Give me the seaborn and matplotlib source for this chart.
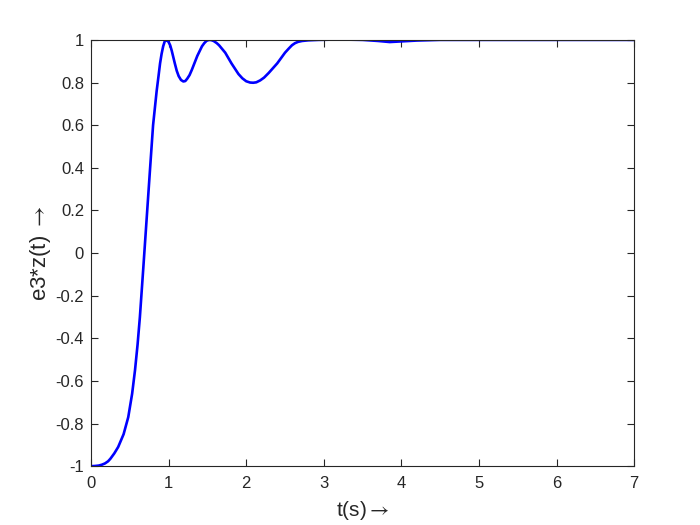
import numpy as np
import pandas as pd
import matplotlib
matplotlib.use("Agg")
import matplotlib.pyplot as plt
import seaborn as sns

# values
t_vals = [0, 0.05, 0.1, 0.14, 0.18, 0.22, 0.25, 0.3, 0.35, 0.42, 0.48, 0.53,
          0.567, 0.6, 0.63, 0.674, 0.717, 0.76, 0.80, 0.846, 0.87, 0.89,
          0.91, 0.93, 0.95, 0.965, 0.98, 1.0, 1.02, 1.04, 1.06, 1.08, 1.105,
          1.13, 1.16, 1.19, 1.215, 1.24, 1.27, 1.30, 1.37, 1.43, 1.46, 1.49,
          1.52, 1.55, 1.58, 1.62, 1.65, 1.73, 1.81, 1.90, 1.95, 2.0, 2.05,
          2.09, 2.13, 2.18, 2.23, 2.29, 2.40, 2.50, 2.55, 2.59, 2.63, 2.67,
          2.72, 2.80, 2.93, 3.2, 3.5, 3.7, 3.85, 4.0, 4.2, 4.5, 5, 6, 7]
z_vals = [-1, -0.999, -0.997, -0.993, -0.987, -0.977, -0.965, -0.94, -0.91,
          -0.85, -0.77, -0.66, -0.55, -0.43, -0.30, -0.07, 0.16, 0.39, 0.60,
          0.76, 0.83, 0.89, 0.935, 0.97, 0.993, 1.0, 0.998, 0.99, 0.975, 0.95,
          0.92, 0.89, 0.855, 0.83, 0.812, 0.805, 0.807, 0.818, 0.835, 0.86,
          0.925, 0.97, 0.985, 0.996, 1.0, 0.999, 0.995, 0.985, 0.975, 0.94,
          0.89, 0.84, 0.82, 0.806, 0.8, 0.799, 0.801, 0.81, 0.823, 0.845,
          0.89, 0.94, 0.96, 0.975, 0.985, 0.991, 0.995, 0.998, 1.0, 1.002,
          1.0, 0.995, 0.99, 0.993, 0.997, 1.0, 1.0, 1.0, 1.0]
x_ticks = [0, 1, 2, 3, 4, 5, 6, 7]
y_ticks = [-1, -0.8, -0.6, -0.4, -0.2, 0, 0.2, 0.4, 0.6, 0.8, 1]

df = pd.DataFrame({"t": t_vals, "z": z_vals})

sns.set_style("white")
plt.rcParams["font.family"] = ["Liberation Sans", "DejaVu Sans"]
plt.rcParams["mathtext.fontset"] = "stix"

fig = plt.figure(figsize=(7, 5.25), dpi=100)
ax = fig.add_axes([0.13, 0.112, 0.776, 0.812])

sns.lineplot(x="t", y="z", data=df, ax=ax, color="#0000ff", linewidth=1.9)

ax.set_xlim(0, 7)
ax.set_ylim(-1, 1)
ax.set_xticks(x_ticks)
ax.set_yticks(y_ticks)
ax.set_xticklabels([str(v) for v in x_ticks])
ax.set_yticklabels(["%g" % v for v in y_ticks])
ax.tick_params(direction="in", length=5, width=0.8, colors="#262626",
               labelsize=12, top=True, right=True, bottom=True, left=True)
ax.tick_params(axis="x", pad=7)
ax.tick_params(axis="y", pad=5)
for s in ax.spines.values():
    s.set_color("#262626")
    s.set_linewidth(0.8)

ax.set_xlabel(r"t(s)$\rightarrow$", fontsize=15, color="#262626", labelpad=6)
ax.set_ylabel(r"e3*z(t) $\rightarrow$", fontsize=16, color="#262626", labelpad=2)

fig.savefig("out.png", dpi=100)
